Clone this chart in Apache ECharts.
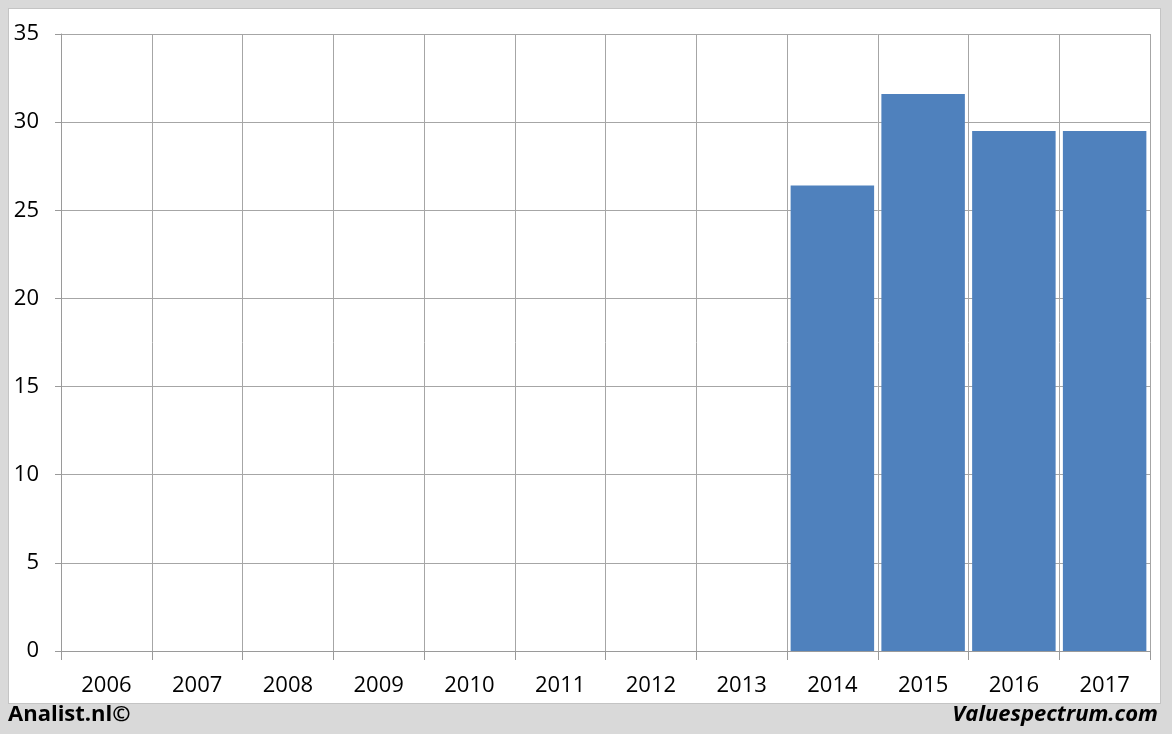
<!DOCTYPE html>
<html>
<head>
<meta charset="utf-8">
<script src="https://cdn.jsdelivr.net/npm/echarts@6/dist/echarts.min.js"></script>
<style>
html,body{margin:0;padding:0;background:#d9d9d9;}
#wrap{position:relative;width:1172px;height:734px;background:#d9d9d9;overflow:hidden;}
#panel{position:absolute;left:8px;top:8px;width:1151px;height:694px;background:#fff;border:1px solid #c4c4c4;}
#chart{position:absolute;left:0;top:0;width:1172px;height:734px;}
</style>
</head>
<body>
<div id="wrap"><div id="panel"></div><div id="chart"></div></div>
<script>
const categories = ['2006','2007','2008','2009','2010','2011','2012','2013','2014','2015','2016','2017'];
const values = [null,null,null,null,null,null,null,null,26.4,31.6,29.5,29.5];
const yMin = 0, yMax = 35, yStep = 5;
const leftNote = 'Analist.nl©';
const rightNote = 'Valuespectrum.com';

const chart = echarts.init(document.getElementById('chart'), null, {renderer:'canvas'});
const font = '"Open Sans","Noto Sans",sans-serif';
chart.setOption({
  backgroundColor: 'transparent',
  animation: false,
  grid: {left: 61, top: 34, width: 1089, height: 617, containLabel: false},
  xAxis: {
    type: 'category', data: categories, boundaryGap: true,
    axisLine: {show: true, lineStyle: {color: '#9a9a9a', width: 1}},
    axisTick: {show: true, length: 9, interval: 0, lineStyle: {color: '#9a9a9a'}},
    axisLabel: {color: '#000', fontSize: 22, fontFamily: font, margin: 24, interval: 0},
    splitLine: {show: true, interval: 0, lineStyle: {color: '#a6a6a6', width: 1}}
  },
  yAxis: {
    type: 'value', min: yMin, max: yMax, interval: yStep,
    axisLine: {show: true, lineStyle: {color: '#9a9a9a'}},
    axisTick: {show: true, length: 6, lineStyle: {color: '#9a9a9a'}},
    axisLabel: {color: '#000', fontSize: 22, fontFamily: font, margin: 22},
    splitLine: {show: true, lineStyle: {color: '#a6a6a6', width: 1}}
  },
  series: [{
    type: 'bar', data: values, barWidth: '92%',
    itemStyle: {color: '#4f81bd'}
  }],
  graphic: [
    {type: 'text', left: 8, top: 704, style: {text: leftNote, font: 'bold 22px ' + font, fill: '#000'}},
    {type: 'text', right: 14, top: 704, style: {text: rightNote, font: 'italic bold 22px ' + font, fill: '#000'}}
  ]
});
</script>
</body>
</html>
